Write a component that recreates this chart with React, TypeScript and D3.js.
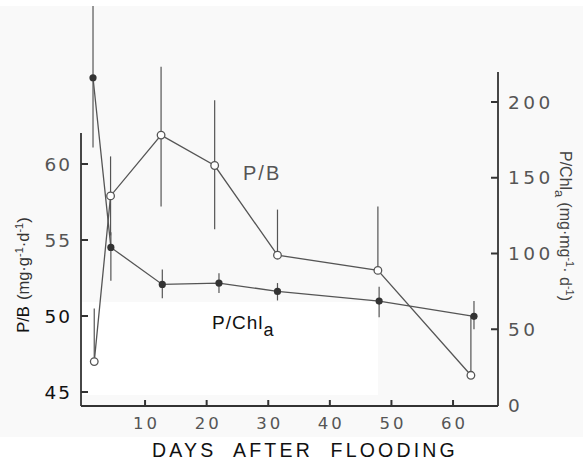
import React from "react";
import * as d3 from "d3";

const W = 583;
const H = 464;

// P/B series (open circles, left axis)
const pbDays = [1.75, 4.4, 12.6, 21.3, 31.5, 47.8, 62.9];
const pbValues = [47.0, 57.9, 61.9, 59.9, 54.0, 53.0, 46.1];
const pbLow = [47.0, 55.3, 57.2, 55.7, 54.0, 53.0, 46.1];
const pbHigh = [50.5, 60.5, 66.4, 64.2, 57.0, 57.2, 50.0];

// P/Chl a series (filled circles, right axis)
const chlDays = [1.55, 4.45, 12.8, 22.0, 31.5, 48.0, 63.4];
const chlValues = [216, 104, 79.6, 80.5, 75, 68.6, 58.5];
const chlLow = [170, 82, 70.5, 74, 69, 58, 50];
const chlHigh = [264, 114, 89.5, 87, 80.5, 78, 68.6];

const xTicks = [10, 20, 30, 40, 50, 60];
const leftTicks = [45, 50, 55, 60];
const rightTicks = [0, 50, 100, 150, 200];

export default function App() {
  const x = d3.scaleLinear().domain([-0.4, 67.3]).range([81, 498]);
  const yL = d3.scaleLinear().domain([45, 60]).range([392, 164]);
  const yR = d3.scaleLinear().domain([0, 200]).range([405, 102]);

  const pb = pbDays.map((d, i) => ({ d, v: pbValues[i], lo: pbLow[i], hi: pbHigh[i] }));
  const chl = chlDays.map((d, i) => ({ d, v: chlValues[i], lo: chlLow[i], hi: chlHigh[i] }));

  const linePB = d3
    .line<{ d: number; v: number }>()
    .x((p) => x(p.d))
    .y((p) => yL(p.v));
  const lineChl = d3
    .line<{ d: number; v: number }>()
    .x((p) => x(p.d))
    .y((p) => yR(p.v));

  const axisColor = "#333";
  const markColor = "#555";
  const tickFont = "'DejaVu Sans', sans-serif";

  return (
    <svg
      width={W}
      height={H}
      style={{ position: "absolute", left: 0, top: 0, display: "block" }}
    >
      <rect x={0} y={0} width={W} height={H} fill="#f9f9f9" />
      <rect x={82} y={302} width={296} height={93} fill="#ffffff" />
      <rect x={0} y={437} width={W} height={27} fill="#ffffff" />
      <rect x={0} y={0} width={W} height={6} fill="#ffffff" />

      {/* error bars P/Chl */}
      {chl.map((p, i) => (
        <line
          key={"ce" + i}
          x1={x(p.d)}
          x2={x(p.d)}
          y1={Math.max(yR(p.hi), 6)}
          y2={yR(p.lo)}
          stroke={markColor}
          strokeWidth={1.2}
        />
      ))}
      {/* error bars P/B */}
      {pb.map((p, i) => (
        <line
          key={"pe" + i}
          x1={x(p.d)}
          x2={x(p.d)}
          y1={yL(p.hi)}
          y2={yL(p.lo)}
          stroke={markColor}
          strokeWidth={1.2}
        />
      ))}

      <path d={lineChl(chl) || ""} fill="none" stroke={markColor} strokeWidth={1.3} />
      <path d={linePB(pb) || ""} fill="none" stroke={markColor} strokeWidth={1.3} />

      {chl.map((p, i) => (
        <circle key={"cc" + i} cx={x(p.d)} cy={yR(p.v)} r={3.6} fill="#333" />
      ))}
      {pb.map((p, i) => (
        <circle
          key={"pc" + i}
          cx={x(p.d)}
          cy={yL(p.v)}
          r={3.8}
          fill="#fff"
          stroke={markColor}
          strokeWidth={1.3}
        />
      ))}

      {/* axes */}
      <line x1={81} x2={81} y1={133} y2={406} stroke={axisColor} strokeWidth={1.8} />
      <line x1={498} x2={498} y1={72} y2={406} stroke={axisColor} strokeWidth={1.8} />
      <line x1={81} x2={498} y1={406} y2={406} stroke={axisColor} strokeWidth={1.8} />

      {leftTicks.map((t) => (
        <g key={"lt" + t}>
          <line x1={81} x2={88} y1={yL(t)} y2={yL(t)} stroke={axisColor} strokeWidth={2} />
          <text
            x={72}
            y={yL(t)}
            dy="0.36em"
            textAnchor="end"
            fontFamily={tickFont}
            fontSize={18.5}
            letterSpacing={2}
            fill={t <= 50 ? "#111" : "#555"}
          >
            {t}
          </text>
        </g>
      ))}

      {rightTicks.map((t) => (
        <g key={"rt" + t}>
          {t > 0 && (
            <line x1={491} x2={498} y1={yR(t)} y2={yR(t)} stroke={axisColor} strokeWidth={2} />
          )}
          <text
            x={508}
            y={yR(t)}
            dy="0.36em"
            textAnchor="start"
            fontFamily={tickFont}
            fontSize={18.5}
            letterSpacing={3.5}
            fill="#555"
          >
            {t}
          </text>
        </g>
      ))}

      {xTicks.map((t) => (
        <g key={"xt" + t}>
          <line x1={x(t)} x2={x(t)} y1={406} y2={400} stroke={axisColor} strokeWidth={2} />
          <text
            x={x(t) + 1.5}
            y={429}
            textAnchor="middle"
            fontFamily={tickFont}
            fontSize={16.5}
            letterSpacing={3}
            fill="#555"
          >
            {t}
          </text>
        </g>
      ))}

      {/* x axis title */}
      <text
        x={305}
        y={457}
        textAnchor="middle"
        fontFamily="'Liberation Sans', Arial, sans-serif"
        fontSize={19.5}
        letterSpacing={3.2}
        wordSpacing={9}
        fill="#111"
      >
        DAYS AFTER FLOODING
      </text>

      {/* left axis title */}
      <text
        transform="translate(29,275) rotate(-90)"
        textAnchor="middle"
        fontFamily="'Liberation Sans', Arial, sans-serif"
        fontSize={16.5}
        fill="#333"
      >
        <tspan fill="#111">P/B</tspan>
        <tspan dx={6}>(mg·g</tspan>
        <tspan fontSize={11} dy={-6}>-1</tspan>
        <tspan dy={6}>·d</tspan>
        <tspan fontSize={11} dy={-6}>-1</tspan>
        <tspan dy={6}>)</tspan>
      </text>

      {/* right axis title */}
      <text
        transform="translate(560,226) rotate(90)"
        textAnchor="middle"
        fontFamily="'Liberation Sans', Arial, sans-serif"
        fontSize={16}
        fill="#444"
      >
        <tspan>P/Chl</tspan>
        <tspan fontSize={13} dy={5}>a</tspan>
        <tspan dy={-5} dx={5}>(mg·mg</tspan>
        <tspan fontSize={11} dy={-6}>-1</tspan>
        <tspan dy={6}>· d</tspan>
        <tspan fontSize={11} dy={-6}>-1</tspan>
        <tspan dy={6}>)</tspan>
      </text>

      {/* series labels */}
      <text
        x={243}
        y={180}
        fontFamily="'Liberation Sans', Arial, sans-serif"
        fontSize={20}
        letterSpacing={2}
        fill="#555"
      >
        P/B
      </text>
      <text
        x={212}
        y={329}
        fontFamily="'Liberation Sans', Arial, sans-serif"
        fontSize={19}
        letterSpacing={1}
        fill="#111"
      >
        <tspan>P/Chl</tspan>
        <tspan fontSize={18} dy={7}>a</tspan>
      </text>
    </svg>
  );
}
